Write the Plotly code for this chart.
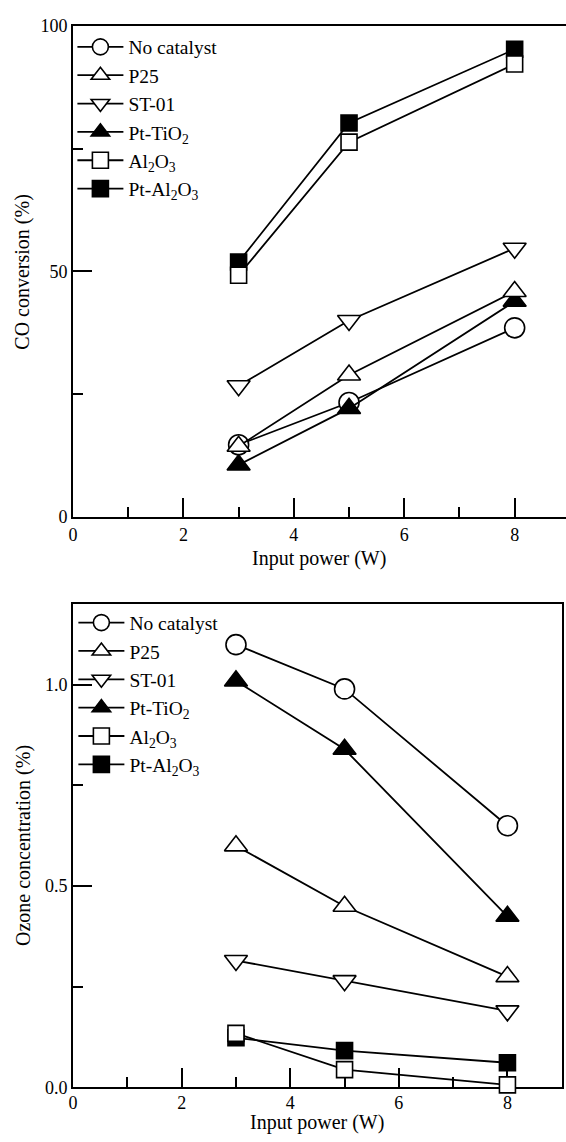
import plotly.graph_objects as go

# ---- data -------------------------------------------------------------
power = [3, 5, 8]

labels = ["No catalyst", "P25", "ST-01", "Pt-TiO<sub>2</sub>",
          "Al<sub>2</sub>O<sub>3</sub>", "Pt-Al<sub>2</sub>O<sub>3</sub>"]

# CO conversion (%)
co_no_catalyst = [14.7, 23.3, 38.5]
co_p25 = [14.4, 28.9, 45.9]
co_st01 = [26.7, 40.0, 54.7]
co_pt_tio2 = [10.6, 22.1, 43.9]
co_al2o3 = [49.2, 76.3, 92.2]
co_pt_al2o3 = [51.9, 80.2, 95.2]

# Ozone concentration (%)
o3_no_catalyst = [1.10, 0.99, 0.65]
o3_p25 = [0.60, 0.45, 0.275]
o3_st01 = [0.315, 0.265, 0.19]
o3_pt_tio2 = [1.01, 0.84, 0.425]
o3_al2o3 = [0.134, 0.044, 0.006]
o3_pt_al2o3 = [0.123, 0.091, 0.061]

x_ticks = [0, 2, 4, 6, 8]
co_ticks = [0, 50, 100]
o3_ticks = [0.0, 0.5, 1.0]
o3_tick_text = ["0.0", "0.5", "1.0"]

# ---- styling ------------------------------------------------------------
FONT = "Liberation Serif, Times New Roman, serif"
W, H = 566, 1142

# symbol, fill, size per series
styles = {
    0: ("circle", "white", 20),
    1: ("triangle-up", "white", 20),
    2: ("triangle-down", "white", 20),
    3: ("triangle-up", "black", 20),
    4: ("square", "white", 16),
    5: ("square", "black", 16),
}
# drawing order: open symbols end up on top of the filled ones
draw_order = [0, 3, 1, 2, 5, 4]

co_series = [co_no_catalyst, co_p25, co_st01, co_pt_tio2, co_al2o3, co_pt_al2o3]
o3_series = [o3_no_catalyst, o3_p25, o3_st01, o3_pt_tio2, o3_al2o3, o3_pt_al2o3]

fig = go.Figure()


def add_series(values, xa, ya, legend_name):
    for i in draw_order:
        sym, fill, size = styles[i]
        fig.add_trace(go.Scatter(
            x=power, y=values[i], name=labels[i],
            mode="lines+markers",
            xaxis=xa, yaxis=ya, legend=legend_name,
            legendrank=i + 1,
            cliponaxis=False,
            line=dict(color="black", width=1.8),
            marker=dict(symbol=sym, color=fill, size=size,
                        line=dict(color="black", width=1.6)),
        ))


add_series(co_series, "x", "y", "legend")
add_series(o3_series, "x2", "y2", "legend2")


def py(px):
    """pixel row from top -> paper y"""
    return (H - px) / H


axis_common = dict(
    showline=True, linecolor="black", linewidth=2,
    ticks="inside", tickcolor="black", tickwidth=2,
    showgrid=False, zeroline=False, layer="below traces",
    tickfont=dict(family=FONT, size=18, color="black"),
)


def minor(step):
    return dict(dtick=step, tick0=0, ticklen=10, tickwidth=2,
                tickcolor="black", ticks="inside")


legend_common = dict(
    xanchor="left", yanchor="top",
    bgcolor="rgba(0,0,0,0)", borderwidth=0,
    itemsizing="trace", itemwidth=46,
    font=dict(family=FONT, size=19.5, color="black"),
)

fig.update_layout(
    width=W, height=H, autosize=False,
    margin=dict(l=0, r=0, t=0, b=0),
    paper_bgcolor="white", plot_bgcolor="white",
    font=dict(family=FONT, color="black"),
    xaxis=dict(domain=[68.6 / W, 1.0], range=[0, (W - 68.6) / 55.7],
               tickvals=x_ticks, ticklen=19, mirror=True, anchor="y",
               minor=minor(1), **axis_common),
    yaxis=dict(domain=[py(516), py(16)], range=[0, 100],
               tickvals=co_ticks, ticklen=19, anchor="x",
               minor=minor(25), **axis_common),
    xaxis2=dict(domain=[68.7 / W, 561.7 / W], range=[0, 9],
                tickvals=x_ticks, ticklen=19, mirror=True, anchor="y2",
                ticklabelstandoff=-2,
                minor=minor(1), **axis_common),
    yaxis2=dict(domain=[py(1096.5), py(605)], range=[0, 1.2],
                tickvals=o3_ticks, ticktext=o3_tick_text, ticklen=19,
                mirror=True, anchor="x2",
                minor=minor(0.25), **axis_common),
    legend=dict(x=68 / W, y=py(18), **legend_common),
    legend2=dict(x=69 / W, y=py(604), **legend_common),
    showlegend=True,
)

title_font = dict(family=FONT, size=20, color="black")
annotations = [
    dict(text="Input power (W)", x=(68.6 + W) / 2 / W, y=py(558)),
    dict(text="CO conversion (%)", x=17.5 / W, y=py(266), textangle=-90),
    dict(text="Input power (W)", x=(68.7 + 561.7) / 2 / W, y=py(1132)),
    dict(text="Ozone concentration (%)", x=18 / W, y=py(850), textangle=-90),
]
for a in annotations:
    fig.add_annotation(xref="paper", yref="paper", showarrow=False,
                       xanchor="center", yanchor="middle",
                       font=title_font, **a)

fig.write_html("out.html")
